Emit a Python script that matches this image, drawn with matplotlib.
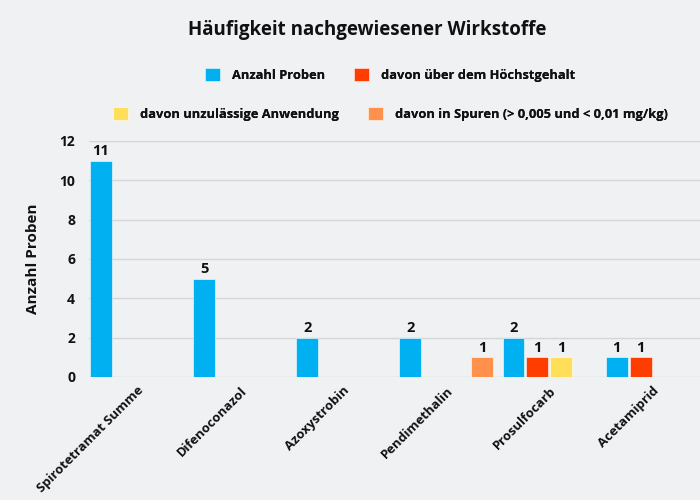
import numpy as np
import matplotlib
matplotlib.use('Agg')
import matplotlib.pyplot as plt

plt.rcParams['font.family'] = ['Open Sans', 'DejaVu Sans']
plt.rcParams['font.weight'] = 'bold'

## Data
categories = ['Spirotetramat Summe', 'Difenoconazol', 'Azoxystrobin',
              'Pendimethalin', 'Prosulfocarb', 'Acetamiprid']
anzahl = [11, 5, 2, 2, 2, 1]
ueber_hoechst = [0, 0, 0, 0, 1, 1]
unzulaessig = [0, 0, 0, 0, 1, 0]
spuren = [0, 0, 0, 1, 0, 0]
series_names = ['Anzahl Proben', 'davon über dem Höchstgehalt',
                'davon unzulässige Anwendung',
                'davon in Spuren (> 0,005 und < 0,01 mg/kg)']
colors = ['#00b0f0', '#ff3d00', '#ffde59', '#ff914d']
bg = '#f0f1f3'

W, H = 700, 500
fig = plt.figure(figsize=(7, 5), dpi=100, facecolor=bg)
ax = fig.add_axes([89/W, 1-377/H, (W-89)/W, (377-141)/H])
ax.set_facecolor(bg)

x = np.arange(len(categories))
slot = 24/103.3
bw = 22/103.3
offsets = (np.arange(4) - 1.5)*slot
bars = []
for vals, off, c, name in zip([anzahl, ueber_hoechst, unzulaessig, spuren],
                              offsets, colors, series_names):
   b = ax.bar(x + off, vals, width=bw, color=c, label=name,
              edgecolor='#ffffff', linewidth=0.4, zorder=3)
   ax.bar_label(b, labels=[str(v) if v else '' for v in vals], padding=2,
                fontsize=10.5, fontweight='bold', color='#111111')
   bars.append(b)

ax.set_xlim(-2*slot, (700-136)/103.3)
ax.set_ylim(0, 12)
ax.set_yticks(range(0, 13, 2))
ax.grid(axis='y', color='#d6d6d9', linewidth=1, zorder=0)
for s in ax.spines.values():
   s.set_visible(False)
ax.tick_params(length=0)
ax.tick_params(axis='y', pad=10, labelsize=10, labelcolor='#111111')
ax.set_xticks(x)
ax.set_xticklabels(categories, rotation=45, ha='right', va='top',
                   rotation_mode='anchor', fontsize=9.4, color='#111111')
ax.tick_params(axis='x', pad=5)
ax.set_ylabel('Anzahl Proben', fontsize=11, fontweight='bold',
              color='#111111', labelpad=14)

fig.text(367/W, 1-30/H, 'Häufigkeit nachgewiesener Wirkstoffe', ha='center',
         va='center', fontsize=13.5, fontweight='bold', color='#111111')

fs = 9.3
px = fs*100/72
for row, (hs, yc) in enumerate([(bars[:2], 75), (bars[2:], 114)]):
   leg = fig.legend(handles=hs, loc='center', bbox_to_anchor=(390/W, 1-yc/H),
                    ncol=2, frameon=False, fontsize=fs,
                    handlelength=15/px, handleheight=15/px,
                    handletextpad=12/px, columnspacing=29/px)
   for t in leg.get_texts():
      t.set_color('#111111')
   fig.add_artist(leg)

fig.savefig('out.png', dpi=100, facecolor=bg)
